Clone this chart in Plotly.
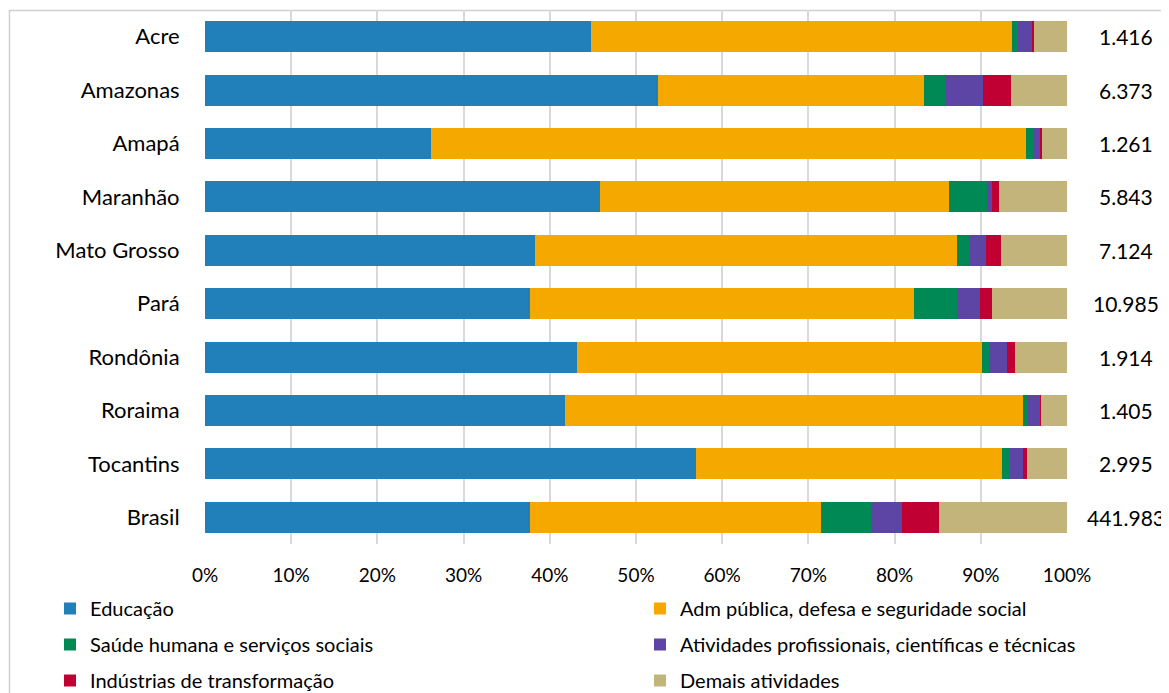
import plotly.graph_objects as go

estados = ["Acre", "Amazonas", "Amapá", "Maranhão", "Mato Grosso", "Pará",
           "Rondônia", "Roraima", "Tocantins", "Brasil"]
totais = ["1.416", "6.373", "1.261", "5.843", "7.124", "10.985",
          "1.914", "1.405", "2.995", "441.983"]

educacao = [44.8, 52.5, 26.2, 45.8, 38.3, 37.7, 43.1, 41.8, 57.0, 37.7]
adm_publica = [48.8, 30.9, 69.0, 40.5, 48.9, 44.6, 47.0, 53.1, 35.5, 33.8]
saude = [0.7, 2.5, 0.8, 4.4, 1.4, 5.1, 0.8, 0.6, 0.9, 5.8]
atividades = [1.6, 4.4, 0.9, 0.6, 2.0, 2.5, 2.1, 1.4, 1.5, 3.5]
industrias = [0.3, 3.2, 0.2, 0.8, 1.7, 1.4, 1.0, 0.1, 0.5, 4.4]
demais = [3.8, 6.5, 2.9, 7.9, 7.7, 8.7, 6.0, 3.0, 4.6, 14.8]

series = [
    ("Educação", educacao, "#2180BA", "legend"),
    ("Adm pública, defesa e seguridade social", adm_publica, "#F5A800", "legend2"),
    ("Saúde humana e serviços sociais", saude, "#008855", "legend"),
    ("Atividades profissionais, científicas e técnicas", atividades, "#5C45A5", "legend2"),
    ("Indústrias de transformação", industrias, "#C00033", "legend"),
    ("Demais atividades", demais, "#C3B47C", "legend2"),
]

FONT = "Lato"
fig = go.Figure()
for i, (name, vals, color, leg) in enumerate(series):
    fig.add_trace(go.Bar(
        y=estados, x=[v / 100 for v in vals], name=name, orientation="h",
        marker=dict(color=color, line=dict(width=0)),
        legend=leg, legendgroup=name,
    ))

# page offset of 8px (body margin) -> figure coords = page coords - 8
OFF = 8
W, H = 1169 - OFF, 693 - OFF
PL, PR, PT, PB = 205, 1067, 10, 544  # plot area in page coords
L, T = PL - OFF, PT - OFF
pw, ph = PR - PL, PB - PT
R, B = W - L - pw, H - T - ph

def px(xpage):
    return (xpage - PL) / pw

def py(ypage):
    return (PB - ypage) / ph

for est, tot in zip(estados, totais):
    fig.add_annotation(x=px(1126), y=est, xref="paper", yref="y", text=tot,
                       showarrow=False, xanchor="center",
                       font=dict(family=FONT, size=21, color="#000000"))

fig.add_shape(type="rect", xref="paper", yref="paper",
              x0=px(9.5), x1=px(1200), y0=py(720), y1=py(10.5),
              line=dict(color="#D0D0D0", width=1.5), layer="below")

leg_common = dict(orientation="v", xanchor="left", yanchor="top",
                  font=dict(family=FONT, size=20, color="#000000"),
                  bgcolor="rgba(0,0,0,0)", traceorder="grouped",
                  tracegroupgap=7, itemwidth=30)
fig.update_layout(
    width=W, height=H,
    margin=dict(l=L, r=R, t=T, b=B, autoexpand=False),
    barmode="stack", bargap=0.42,
    plot_bgcolor="white", paper_bgcolor="white",
    font=dict(family=FONT, size=20, color="#000000"),
    xaxis=dict(range=[0, 1], tickformat=".0%", dtick=0.1,
               showgrid=True, gridcolor="#D9D9D9", gridwidth=2,
               zeroline=False, ticks="outside", ticklen=14,
               tickcolor="rgba(0,0,0,0)", fixedrange=True,
               tickfont=dict(family=FONT, size=19)),
    yaxis=dict(autorange="reversed", ticks="outside", ticklen=20,
               tickcolor="rgba(0,0,0,0)", showgrid=False,
               tickfont=dict(family=FONT, size=22)),
    legend=dict(x=px(50), y=py(589), **leg_common),
    legend2=dict(x=px(640), y=py(589), **leg_common),
)

fig.write_html("out.html")
